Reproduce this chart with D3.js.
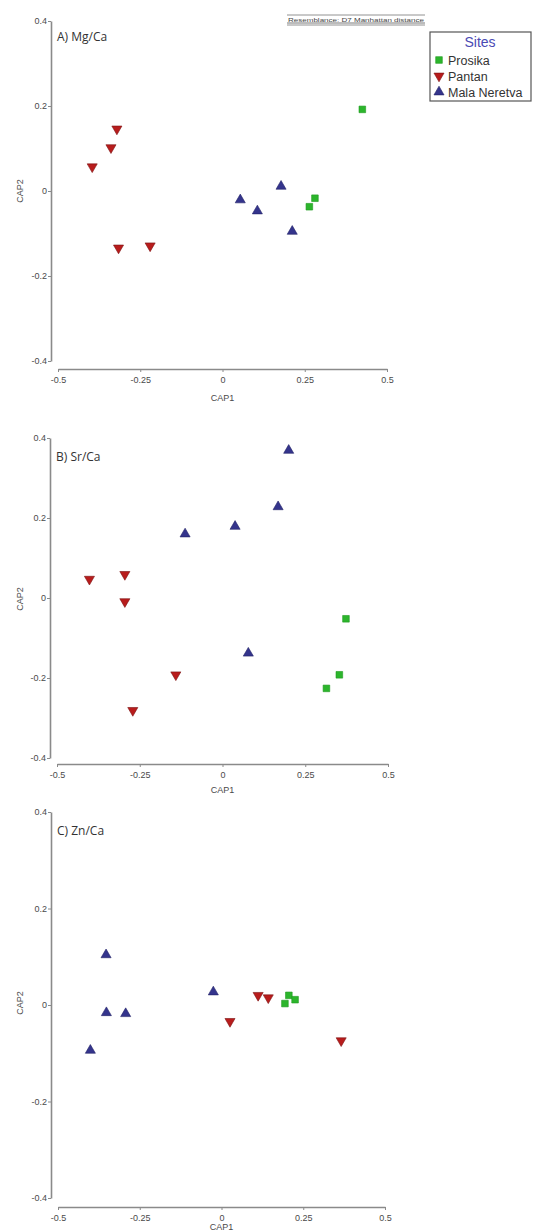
<!DOCTYPE html>
<html><head><meta charset="utf-8">
<script src="https://cdn.jsdelivr.net/npm/d3@7"></script>
<style>body{margin:0;background:#fff;}svg{display:block;}</style>
</head><body>
<svg id="chart" width="534" height="1232"></svg>
<script>
// ---- data (CAP1, CAP2) ----
const sites = ["Prosika", "Pantan", "Mala Neretva"];
const panelTitles = ["A) Mg/Ca", "B) Sr/Ca", "C) Zn/Ca"];
const xTicks = [-0.5, -0.25, 0, 0.25, 0.5];
const xTickLabels = ["-0.5", "-0.25", "0", "0.25", "0.5"];
const yTicks = [0.4, 0.2, 0, -0.2, -0.4];
const yTickLabels = ["0.4", "0.2", "0", "-0.2", "-0.4"];

const mgProsika = [[0.425, 0.192], [0.264, -0.037], [0.281, -0.017]];
const mgPantan = [[-0.321, 0.146], [-0.339, 0.102], [-0.396, 0.057], [-0.316, -0.134], [-0.220, -0.129]];
const mgMala = [[0.054, -0.021], [0.106, -0.047], [0.178, 0.011], [0.212, -0.095]];

const srProsika = [[0.373, -0.052], [0.353, -0.192], [0.314, -0.226]];
const srPantan = [[-0.402, 0.047], [-0.295, 0.059], [-0.295, -0.009], [-0.141, -0.192], [-0.271, -0.281]];
const srMala = [[0.200, 0.369], [0.168, 0.228], [0.038, 0.179], [-0.113, 0.160], [0.078, -0.138]];

const znProsika = [[0.194, 0.003], [0.206, 0.020], [0.225, 0.011]];
const znPantan = [[0.026, -0.034], [0.112, 0.020], [0.143, 0.015], [0.366, -0.074]];
const znMala = [[-0.353, 0.104], [-0.352, -0.016], [-0.293, -0.018], [-0.401, -0.094], [-0.025, 0.027]];

const panelData = [
  [mgProsika, mgPantan, mgMala],
  [srProsika, srPantan, srMala],
  [znProsika, znPantan, znMala]
];

// ---- styling / layout ----
const colors = ["#2cb52c", "#b81c1c", "#34348c"];
const strokes = ["#1f9a1f", "#7a1010", "#222266"];
const layout = [
  {top: 21, bottom: 361, xAxisY: 369, xLeft: 58, xRight: 387, yAxisX: 51, titleY: 41, capX: 401, capY: 191},
  {top: 438, bottom: 758, xAxisY: 764, xLeft: 57, xRight: 388, yAxisX: 50, titleY: 461, capX: 793, capY: 599},
  {top: 812, bottom: 1198, xAxisY: 1207, xLeft: 58, xRight: 385, yAxisX: 51, titleY: 835, capX: 1230, capY: 1003}
];

const svg = d3.select("#chart");
const axisCol = "#8a8a8a";
const textCol = "#4a4a4a";
const font = "Arial, 'Liberation Sans', sans-serif";

function symbolFor(i) {
  if (i === 0) return d3.symbol().type(d3.symbolSquare).size(44)();
  return d3.symbol().type(d3.symbolTriangle).size(44)();
}

panelData.forEach((series, p) => {
  const L = layout[p];
  const x = d3.scaleLinear().domain([-0.5, 0.5]).range([L.xLeft, L.xRight]);
  const y = d3.scaleLinear().domain([-0.4, 0.4]).range([L.bottom, L.top]);
  const g = svg.append("g");

  const ya = g.append("g").attr("transform", `translate(${L.yAxisX},0)`)
    .call(d3.axisLeft(y).tickValues(yTicks).tickSize(3).tickSizeOuter(0)
      .tickFormat((d, i) => yTickLabels[i]));
  const xa = g.append("g").attr("transform", `translate(0,${L.xAxisY})`)
    .call(d3.axisBottom(x).tickValues(xTicks).tickSize(3).tickSizeOuter(0)
      .tickFormat((d, i) => xTickLabels[i]));
  [ya, xa].forEach(a => {
    a.select(".domain").attr("stroke", axisCol).attr("stroke-width", 1.6);
    a.selectAll(".tick line").attr("stroke", axisCol).attr("stroke-width", 1);
    a.selectAll(".tick text").attr("fill", textCol).style("font-family", font).style("font-size", "9px");
  });
  xa.selectAll(".tick text").attr("dy", "0.9em").attr("y", 6);
  ya.selectAll(".tick text").attr("x", -4);

  g.append("text").attr("x", x(0)).attr("y", L.capX).attr("text-anchor", "middle")
    .attr("fill", textCol).style("font-family", font).style("font-size", "9px").text("CAP1");
  g.append("text").attr("transform", `translate(23,${L.capY}) rotate(-90)`).attr("text-anchor", "middle")
    .attr("fill", textCol).style("font-family", font).style("font-size", "9px").text("CAP2");

  g.append("text").attr("x", L.yAxisX + 6).attr("y", L.titleY).attr("fill", "#333")
    .style("font-family", "'Open Sans', 'Noto Sans', sans-serif").style("font-size", "12px").text(panelTitles[p]);

  series.forEach((pts, si) => {
    g.selectAll(null).data(pts).enter().append("path")
      .attr("d", symbolFor(si))
      .attr("transform", d => `translate(${x(d[0])},${y(d[1])})` + (si === 1 ? " rotate(180)" : ""))
      .attr("fill", colors[si]).attr("stroke", strokes[si]).attr("stroke-width", 0.6);
  });
});

// resemblance note
const note = svg.append("g");
note.append("line").attr("x1", 287).attr("x2", 425).attr("y1", 15).attr("y2", 15).attr("stroke", "#777").attr("stroke-width", 0.8);
note.append("line").attr("x1", 287).attr("x2", 425).attr("y1", 23).attr("y2", 23).attr("stroke", "#555").attr("stroke-width", 0.8);
note.append("line").attr("x1", 287).attr("x2", 425).attr("y1", 25).attr("y2", 25).attr("stroke", "#777").attr("stroke-width", 0.8);
note.append("text").attr("x", 288).attr("y", 21.5).attr("fill", "#444")
  .style("font-family", font).style("font-size", "6px").attr("textLength", 136).attr("lengthAdjust", "spacingAndGlyphs")
  .text("Resemblance: D7 Manhattan distance");

// legend
const leg = svg.append("g");
leg.append("rect").attr("x", 430).attr("y", 32).attr("width", 101).attr("height", 69)
  .attr("fill", "#fff").attr("stroke", "#555").attr("stroke-width", 1.2);
leg.append("text").attr("x", 480).attr("y", 47).attr("text-anchor", "middle").attr("fill", "#4a4ab4")
  .style("font-family", font).style("font-size", "14px").text("Sites");
sites.forEach((s, i) => {
  const yy = 60 + i * 16;
  leg.append("path").attr("d", symbolFor(i))
    .attr("transform", `translate(439,${yy})` + (i === 1 ? " rotate(180)" : ""))
    .attr("fill", colors[i]).attr("stroke", strokes[i]).attr("stroke-width", 0.6);
  leg.append("text").attr("x", 448).attr("y", yy + 4.5).attr("fill", "#333")
    .style("font-family", font).style("font-size", "12.5px").text(s);
});
</script>
</body></html>
